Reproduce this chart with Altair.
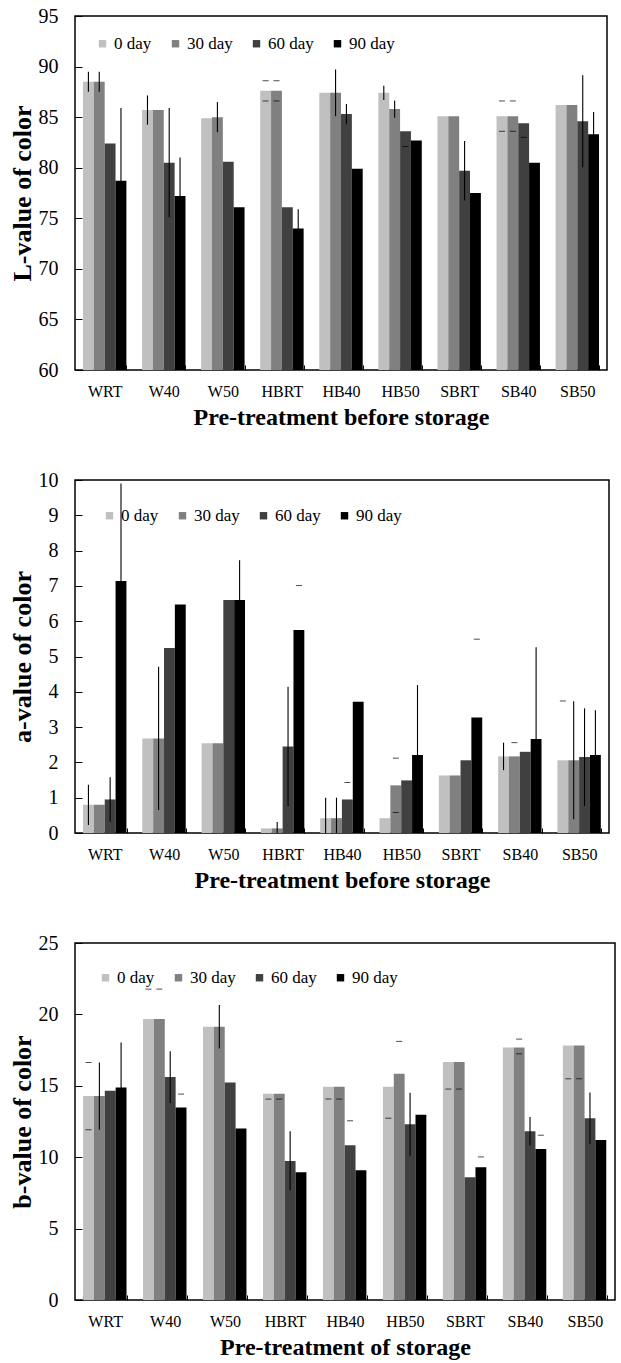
import altair as alt
import pandas as pd

categories = ["WRT", "W40", "W50", "HBRT", "HB40", "HB50", "SBRT", "SB40", "SB50"]
days = ["0 day", "30 day", "60 day", "90 day"]
bar_colors = ["#c0c0c0", "#808080", "#404040", "#000000"]
Z = [0, 0, 0, 0, 0, 0, 0, 0, 0]

# ---- L-value ----
L_0 = [88.5, 85.7, 84.9, 87.6, 87.4, 87.4, 85.1, 85.1, 86.2]
L_30 = [88.5, 85.7, 85.0, 87.6, 87.4, 85.8, 85.1, 85.1, 86.2]
L_60 = [82.4, 80.5, 80.6, 76.1, 85.3, 83.6, 79.7, 84.4, 84.6]
L_90 = [78.7, 77.2, 76.1, 74.0, 79.9, 82.7, 77.5, 80.5, 83.3]
L_err_0 = [1.0, 1.45, 0, 0, 0, 0.7, 0, 0, 0]
L_err_30 = [1.0, 0, 1.5, 0, 2.3, 0.85, 0, 0, 0]
L_err_60 = [0, 5.4, 0, 0, 1.0, 0, 2.95, 0, 4.55]
L_err_90 = [7.2, 3.8, 0, 1.9, 0, 0, 0, 0, 2.2]
# caps drawn without a stem: upper and lower distances
L_capU_0 = [0, 0, 0, 1.0, 0, 0, 0, 1.5, 0]
L_capD_0 = [0, 0, 0, 1.0, 0, 0, 0, 1.5, 0]
L_capU_30 = [0, 0, 0, 1.0, 0, 0, 0, 1.5, 0]
L_capD_30 = [0, 0, 0, 1.0, 0, 0, 0, 1.5, 0]
L_capU_60 = Z
L_capD_60 = [0, 0, 0, 0, 0, 1.5, 0, 1.4, 0]
L_capU_90 = Z
L_capD_90 = Z

# ---- a-value ----
a_0 = [0.80, 2.68, 2.54, 0.13, 0.42, 0.42, 1.63, 2.17, 2.06]
a_30 = [0.80, 2.68, 2.54, 0.13, 0.42, 1.35, 1.63, 2.17, 2.06]
a_60 = [0.95, 5.24, 6.60, 2.45, 0.95, 1.49, 2.06, 2.30, 2.15]
a_90 = [7.14, 6.47, 6.60, 5.75, 3.72, 2.21, 3.27, 2.66, 2.21]
a_err_0 = [0.57, 0, 0, 0, 0.58, 0, 0, 0.39, 0]
a_err_30 = [0, 2.03, 0, 0.18, 0.58, 0, 0, 0, 1.67]
a_err_60 = [0.63, 0, 0, 1.69, 0, 0, 0, 0, 1.38]
a_err_90 = [2.76, 0, 1.13, 0, 0, 1.98, 0, 2.6, 1.27]
a_capU_0 = [0, 0, 0, 0, 0, 0, 0, 0, 1.68]
a_capD_0 = Z
a_capU_30 = [0, 0, 0, 0, 0, 0.77, 0, 0.39, 0]
a_capD_30 = [0, 0, 0, 0, 0, 0.77, 0, 0, 0]
a_capU_60 = [0, 0, 0, 0, 0.48, 0, 0, 0, 0]
a_capD_60 = Z
a_capU_90 = [0, 0, 0, 1.26, 0, 0, 2.22, 0, 0]
a_capD_90 = Z

# ---- b-value ----
b_0 = [14.28, 19.67, 19.14, 14.44, 14.93, 14.93, 16.66, 17.69, 17.83]
b_30 = [14.28, 19.67, 19.14, 14.44, 14.93, 15.84, 16.66, 17.69, 17.83]
b_60 = [14.65, 15.61, 15.23, 9.74, 10.84, 12.31, 8.60, 11.82, 12.73]
b_90 = [14.88, 13.48, 12.01, 8.95, 9.09, 12.97, 9.30, 10.58, 11.21]
b_err_0 = Z
b_err_30 = [2.36, 0, 1.52, 0, 0, 0, 0, 0, 0]
b_err_60 = [0, 1.81, 0, 2.08, 0, 2.2, 0, 1.0, 1.8]
b_err_90 = [3.15, 0, 0, 0, 0, 0, 0, 0, 0]
b_capU_0 = [2.36, 2.1, 0, 0, 0, 0, 0, 0, 0]
b_capD_0 = [2.36, 0, 0, 0.37, 0.86, 2.2, 1.89, 0, 2.34]
b_capU_30 = [0, 2.1, 0, 0, 0, 2.27, 0, 0.58, 0]
b_capD_30 = [0, 0, 0, 0.37, 0.86, 0, 1.89, 0.45, 2.34]
b_capU_60 = [0, 0, 0, 0, 1.71, 0, 0, 0, 0]
b_capD_60 = Z
b_capU_90 = [0, 0.94, 0, 0, 0, 0, 0.72, 0.96, 0]
b_capD_90 = Z

SERIF = "Liberation Serif"


def build(values, errs, capsU, capsD):
    rows = []
    for d, vals, es, cu, cd in zip(days, values, errs, capsU, capsD):
        for c, v, e, u, w in zip(categories, vals, es, cu, cd):
            rows.append(dict(cat=c, day=d, v=v, err=e, lo=v - e, hi=v + e,
                             cu=u, cd=w, chi=v + u, clo=v - w))
    return pd.DataFrame(rows)


def panel(df, ymin, ymax, ystep, ytitle, xtitle, lx, ly, w, h):
    x = alt.X("cat:N", sort=categories, title=xtitle,
              scale=alt.Scale(paddingInner=0.265, paddingOuter=0.135),
              axis=alt.Axis(labelAngle=0, domain=False, offset=-5, tickSize=5,
                            tickBand="extent", tickColor="black", tickWidth=1,
                            labelFont=SERIF, labelFontSize=16, labelColor="black",
                            labelPadding=13, titleFont=SERIF, titleFontSize=24,
                            titleFontWeight="bold", titleColor="black", titlePadding=6))
    xo = alt.XOffset("day:N", sort=days, scale=alt.Scale(paddingInner=0, paddingOuter=0))
    yscale = alt.Scale(domain=[ymin, ymax], nice=False, zero=False)
    yaxis = alt.Axis(values=list(range(ymin, ymax + 1, ystep)), title=ytitle, grid=False,
                     domain=False, offset=-7, tickSize=7, tickColor="black", tickWidth=1,
                     labelFont=SERIF, labelFontSize=20, labelColor="black", labelPadding=17,
                     titleFont=SERIF, titleFontSize=26, titleFontWeight="bold",
                     titleColor="black", titlePadding=3)
    bars = alt.Chart(df).mark_bar(clip=True).encode(
        x=x, xOffset=xo,
        y=alt.Y("v:Q", scale=yscale, axis=yaxis),
        color=alt.Color("day:N", sort=days,
                        scale=alt.Scale(domain=days, range=bar_colors),
                        legend=alt.Legend(title=None, orient="none", legendX=lx, legendY=ly,
                                          direction="horizontal", symbolType="square",
                                          symbolSize=55, symbolStrokeWidth=0,
                                          symbolOpacity=1, labelFont=SERIF,
                                          labelFontSize=17, labelColor="black",
                                          columnPadding=15, labelOffset=3)),
    )
    err = alt.Chart(df).transform_filter("datum.err > 0").mark_rule(
        color="black", strokeWidth=1.1, clip=True).encode(
        x=x, xOffset=xo,
        y=alt.Y("lo:Q", scale=yscale, axis=yaxis), y2="hi:Q")
    cap_hi = alt.Chart(df).transform_filter("datum.cu > 0").mark_tick(
        color="black", orient="horizontal", size=6, thickness=1, clip=True).encode(
        x=x, xOffset=xo, y=alt.Y("chi:Q", scale=yscale, axis=yaxis))
    cap_lo = alt.Chart(df).transform_filter("datum.cd > 0").mark_tick(
        color="black", orient="horizontal", size=6, thickness=1, clip=True).encode(
        x=x, xOffset=xo, y=alt.Y("clo:Q", scale=yscale, axis=yaxis))
    return alt.layer(bars, err, cap_hi, cap_lo).properties(width=w, height=h)


dfL = build([L_0, L_30, L_60, L_90], [L_err_0, L_err_30, L_err_60, L_err_90],
            [L_capU_0, L_capU_30, L_capU_60, L_capU_90],
            [L_capD_0, L_capD_30, L_capD_60, L_capD_90])
dfa = build([a_0, a_30, a_60, a_90], [a_err_0, a_err_30, a_err_60, a_err_90],
            [a_capU_0, a_capU_30, a_capU_60, a_capU_90],
            [a_capD_0, a_capD_30, a_capD_60, a_capD_90])
dfb = build([b_0, b_30, b_60, b_90], [b_err_0, b_err_30, b_err_60, b_err_90],
            [b_capU_0, b_capU_30, b_capU_60, b_capU_90],
            [b_capD_0, b_capD_30, b_capD_60, b_capD_90])

p1 = panel(dfL, 60, 95, 5, "L-value of color", "Pre-treatment before storage", 19, 19, 532, 354)
p2 = panel(dfa, 0, 10, 1, "a-value of color", "Pre-treatment before storage", 26, 27, 534, 353)
p3 = panel(dfb, 0, 25, 5, "b-value of color", "Pre-treatment of storage", 22, 26, 540, 357)

chart = alt.vconcat(p1, p2, p3, spacing=39).resolve_scale(
    color="independent", x="independent", y="independent"
).properties(
    padding={"left": 8, "top": 5, "right": 1, "bottom": 0},
    background="white",
).configure_view(stroke="black", strokeWidth=1.5).configure_legend(
    labelFont=SERIF, labelFontSize=17, labelColor="black"
)

chart.save("out.html", embed_options={"renderer": "svg", "actions": False})
